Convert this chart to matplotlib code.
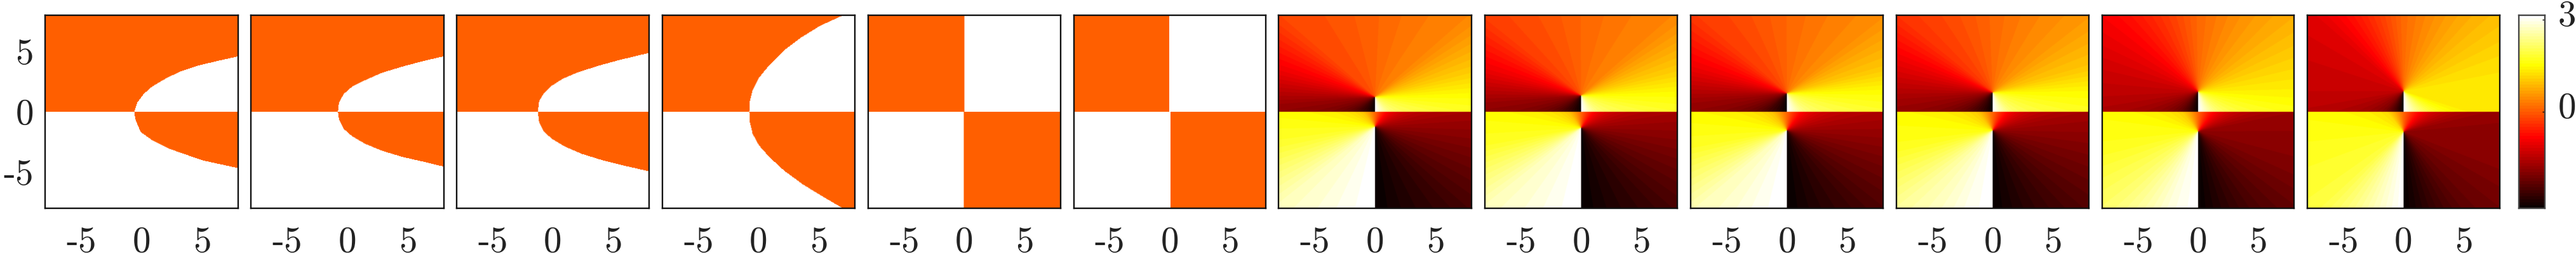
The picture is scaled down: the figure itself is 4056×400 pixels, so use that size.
import matplotlib
matplotlib.use('Agg')
import matplotlib.pyplot as plt
from matplotlib.transforms import ScaledTranslation
import numpy as np

plt.rcParams['font.family'] = ['cmr10', 'DejaVu Serif']

W, H = 4056, 400
DPI = 100

# panel edges in pixels
left_px = [71, 395, 719, 1043, 1367, 1691, 2013, 2338, 2662, 2986, 3310, 3633]
right_px = [375, 699, 1022, 1346, 1670, 1993, 2317, 2641, 2965, 3289, 3612, 3936]
top_px, bottom_px = 24, 328

tick_vals = [-5, 0, 5]
tick_labels = ['-5', '0', '5']
lim = 8.0

# phase levels of the two flat regions
orange_val = 0.09
white_val = 3.14

# boundaries in the first six panels: |y| -> x
up_y = [
    [0, 0.79, 1.49, 2.1, 2.72, 3.33, 3.85, 4.27, 4.6],
    [0, 0.77, 1.48, 2.1, 2.54, 3.24, 3.77, 4.24, 4.61],
    [0, 0.9, 1.51, 2.13, 2.75, 3.27, 3.83, 4.31, 4.89],
    [0, 0.9, 1.78, 2.83, 3.89, 5.12, 6.18, 7.15, 7.97],
    [0, 8],
    [0, 8],
]
up_x = [
    [-0.61, -0.35, 0.18, 0.88, 1.93, 3.16, 4.74, 6.5, 8.0],
    [-0.79, -0.7, -0.3, 0.4, 1.28, 2.87, 4.63, 6.39, 8.0],
    [-1.25, -1.14, -0.76, -0.14, 0.83, 2.06, 3.82, 5.58, 8.0],
    [-0.78, -0.73, -0.5, 0.03, 0.9, 2.14, 3.55, 5.13, 6.93],
    [0.0, 0.0],
    [-0.07, -0.07],
]
low_y = [
    [0, 0.61, 1.05, 1.67, 2.37, 3.07, 3.56, 4.05, 4.68],
    [0, 0.63, 1.43, 2.04, 2.66, 3.24, 3.77, 4.17, 4.56],
    [0, 0.86, 1.65, 2.27, 2.89, 3.5, 4.04, 4.52, 4.95],
    [0, 0.86, 1.83, 2.8, 3.77, 4.91, 6.06, 7.02, 8.0],
    [0, 8],
    [0, 8],
]
low_x = [
    [-0.61, -0.53, -0.35, -0.09, 0.88, 2.28, 3.68, 5.09, 8.0],
    [-0.79, -0.7, -0.3, 0.4, 1.46, 2.87, 4.63, 6.39, 8.0],
    [-1.25, -1.14, -0.76, -0.05, 1.0, 2.41, 4.17, 6.11, 8.0],
    [-0.78, -0.73, -0.5, 0.03, 0.9, 2.14, 3.72, 5.3, 6.98],
    [-0.03, -0.03],
    [0.03, 0.03],
]

# last six panels: vortex heights and phase against angle round each vortex
vortex_top = [1.23, 1.35, 1.53, 1.6, 1.67, 1.7]
vortex_bot = [1.23, 1.33, 1.54, 1.55, 1.63, 1.67]
angle_top = [-90, -45, -15, 0, 15, 40, 90, 140, 165, 185, 225, 270]
angle_bot = [0, 20, 50, 80, 100, 140, 180, 220, 260, 290, 320, 360]
phase_top = [
    [3.14, 2.3, 1.9, 1.55, 1.05, 0.4, 0.08, -0.2, -1.0, -1.8, -2.6, -3.14],
    [3.14, 2.3, 1.9, 1.55, 1.05, 0.4, 0.1, -0.25, -1.0, -1.8, -2.6, -3.14],
    [3.14, 2.3, 1.9, 1.55, 1.0, 0.45, 0.1, -0.3, -1.0, -1.75, -2.6, -3.14],
    [3.14, 2.2, 1.8, 1.5, 1.0, 0.55, 0.12, -0.35, -1.1, -1.7, -2.5, -3.14],
    [3.14, 2.2, 1.7, 1.4, 1.15, 0.75, 0.12, -0.85, -1.25, -1.5, -2.2, -3.14],
    [3.14, 2.1, 1.3, 1.35, 1.25, 0.9, 0.15, -1.1, -1.3, -1.4, -2.0, -3.14],
]
phase_bot = [
    [3.14, 3.0, 2.7, 1.8, 1.5, 1.0, 0.1, -0.85, -1.65, -2.2, -2.7, -3.14],
    [3.14, 3.0, 2.7, 1.75, 1.5, 1.0, 0.1, -0.85, -1.65, -2.2, -2.7, -3.14],
    [3.14, 3.0, 2.65, 1.75, 1.5, 1.0, 0.1, -0.85, -1.6, -2.15, -2.65, -3.14],
    [3.14, 2.95, 2.5, 1.7, 1.5, 1.05, 0.1, -0.85, -1.7, -2.15, -2.6, -3.14],
    [3.14, 2.9, 2.2, 1.7, 1.55, 1.1, 0.1, -0.85, -1.8, -2.0, -2.45, -3.14],
    [3.14, 2.7, 1.9, 1.7, 1.55, 1.2, 0.1, -0.85, -1.85, -1.95, -2.3, -3.14],
]

cmap = plt.get_cmap('hot', 64)
vmin, vmax = -np.pi, np.pi


def add_axes(l, r):
    return fig.add_axes([l / W, 1 - bottom_px / H, (r - l) / W, (bottom_px - top_px) / H])


def flat_field(i, n=300):
    g = np.linspace(-lim, lim, n)
    xx, yy = np.meshgrid(g, g)
    xb_up = np.interp(yy, up_y[i], up_x[i])
    xb_low = np.interp(-yy, low_y[i], low_x[i])
    orange = np.where(yy >= 0, xx < xb_up, xx > xb_low)
    return np.where(orange, orange_val, white_val)


def vortex_field(i, n=600):
    g = np.linspace(-lim, lim, n)
    xx, yy = np.meshgrid(g, g)
    # angle counter-clockwise from +x, running -90..270
    a = np.degrees(np.arctan2(yy - vortex_top[i], xx))
    a = np.where(a < -90, a + 360, a)
    # angle clockwise from straight down, running 0..360
    b = np.degrees(np.arctan2(-xx, -(yy + vortex_bot[i]))) % 360
    upper = np.interp(a, angle_top, phase_top[i])
    lower = np.interp(b, angle_bot, phase_bot[i])
    return np.where(yy >= 0, upper, lower)


fig = plt.figure(figsize=(W / DPI, H / DPI), dpi=DPI)
label_shift = ScaledTranslation(0, 10 / DPI, fig.dpi_scale_trans)

for k in range(12):
    ax = add_axes(left_px[k], right_px[k])
    field = flat_field(k) if k < 6 else vortex_field(k - 6)
    ax.imshow(field, origin='lower', extent=[-lim, lim, -lim, lim], cmap=cmap,
              vmin=vmin, vmax=vmax, interpolation='bilinear', aspect='auto')
    ax.set_xticks(tick_vals)
    ax.set_xticklabels(tick_labels)
    if k == 0:
        ax.set_yticks(tick_vals)
        ax.set_yticklabels(tick_labels)
        for lab in ax.get_yticklabels():
            lab.set_transform(lab.get_transform() + label_shift)
    else:
        ax.set_yticks([])
    ax.tick_params(length=0, labelsize=41, labelcolor='#222222')
    ax.tick_params(axis='x', pad=20.5)
    ax.tick_params(axis='y', pad=13)
    for s in ax.spines.values():
        s.set_linewidth(1.7)
        s.set_color('#111111')

# colourbar
cax = add_axes(3966, 4007)
bar = np.linspace(vmin, vmax, 256).reshape(-1, 1)
cax.imshow(bar, origin='lower', extent=[0, 1, vmin, vmax], cmap=cmap, vmin=vmin, vmax=vmax, aspect='auto')
cax.set_xticks([])
cax.yaxis.tick_right()
cax.set_yticks([0, 3])
cax.set_yticklabels(['0', '3'])
cax.tick_params(axis='y', direction='in', length=3, width=1, pad=15, labelsize=41, labelcolor='#222222')
for lab in cax.get_yticklabels():
    lab.set_transform(lab.get_transform() + label_shift)
for s in cax.spines.values():
    s.set_linewidth(1.7)
    s.set_color('#444444')

fig.savefig('out.png', dpi=DPI)
